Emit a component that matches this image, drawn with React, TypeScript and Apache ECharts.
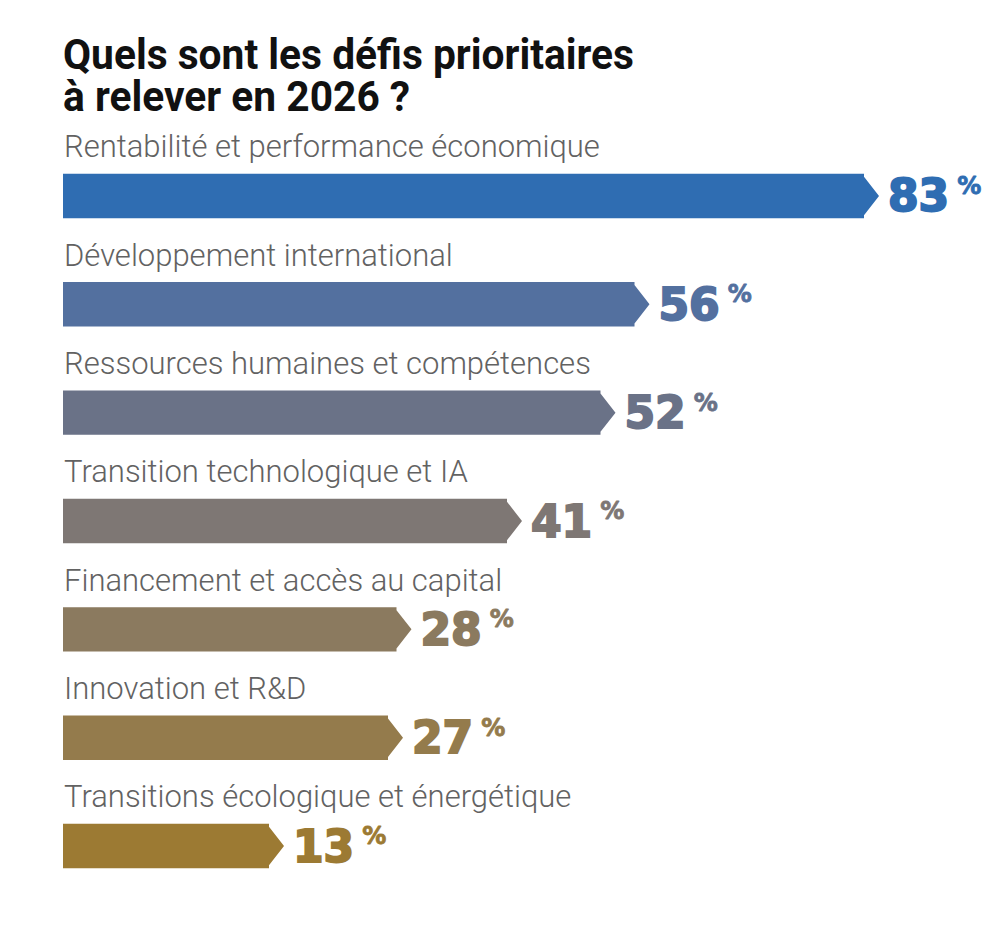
import React, { useEffect, useRef } from "react";
import * as echarts from "echarts";

const titleLines = ["Quels sont les défis prioritaires", "à relever en 2026 ?"];
const categories = [
  "Rentabilité et performance économique",
  "Développement international",
  "Ressources humaines et compétences",
  "Transition technologique et IA",
  "Financement et accès au capital",
  "Innovation et R&D",
  "Transitions écologique et énergétique",
];
const values = [83, 56, 52, 41, 28, 27, 13];
const colors = ["#2f6db2", "#53709f", "#6a7287", "#7e7774", "#8b7a5f", "#947b4c", "#9c7a33"];

const X_MIN = -13;
const X_MAX = 90;

export default function App() {
  const ref = useRef<HTMLDivElement>(null);
  useEffect(() => {
    if (!ref.current) return;
    const chart = echarts.init(ref.current, null, { renderer: "svg" });
    const option: any = {
      animation: false,
      backgroundColor: "#ffffff",
      grid: { left: 63, right: 61.5, top: 141.8, bottom: 29.8 },
      xAxis: { type: "value", min: X_MIN, max: X_MAX, show: false },
      yAxis: { type: "category", data: categories, inverse: true, show: false },
      graphic: titleLines.map((t, i) => ({
        type: "text",
        x: 63,
        y: 55 + i * 42,
        scaleX: 0.97,
        style: {
          text: t,
          fontFamily: "Roboto",
          fontWeight: 700,
          fontSize: 42,
          fill: "#111111",
          verticalAlign: "middle",
          align: "left",
        },
      })),
      series: [
        {
          type: "custom",
          clip: false,
          encode: { x: 0, y: 1 },
          data: values.map((v, i) => [v, i]),
          renderItem: (params: any, api: any) => {
            const i = params.dataIndex;
            const v = api.value(0);
            const tipPt = api.coord([v, i]);
            const basePt = api.coord([X_MIN, i]);
            const band = api.size([0, 1])[1];
            const h = band * 0.41;
            const cy = tipPt[1];
            const top = cy - h / 2;
            const bot = cy + h / 2;
            const tipX = tipPt[0];
            const rx = tipX - 15;
            const color = colors[i];
            return {
              type: "group",
              children: [
                {
                  type: "polygon",
                  shape: {
                    points: [
                      [basePt[0], top],
                      [rx, top],
                      [rx, top + 3],
                      [tipX, cy],
                      [rx, bot - 3],
                      [rx, bot],
                      [basePt[0], bot],
                    ],
                  },
                  style: { fill: color },
                },
                {
                  type: "text",
                  x: basePt[0] + 1,
                  y: top - 27,
                  scaleX: 1.0,
                  style: {
                    text: categories[i],
                    fontFamily: "Roboto",
                    fontWeight: 300,
                    fontSize: 31,
                    fill: "#626262",
                    verticalAlign: "middle",
                    align: "left",
                  },
                },
                {
                  type: "text",
                  x: tipX + 9,
                  y: cy,
                  style: {
                    text: `{n|${v}}{p|%}`,
                    verticalAlign: "middle",
                    align: "left",
                    rich: {
                      n: {
                        fontFamily: "DejaVu Sans",
                        fontWeight: 700,
                        fontSize: 44,
                        lineHeight: 44,
                        fill: color,
                        stroke: color,
                        lineWidth: 2,
                      },
                      p: {
                        fontFamily: "DejaVu Sans",
                        fontWeight: 700,
                        fontSize: 24,
                        lineHeight: 24,
                        fill: color,
                        stroke: color,
                        lineWidth: 0.8,
                        verticalAlign: "top",
                        padding: [0, 0, 0, 8],
                      },
                    },
                  },
                },
              ],
            };
          },
        },
      ],
    };
    chart.setOption(option);
    return () => chart.dispose();
  }, []);
  return (
    <div
      ref={ref}
      style={{ position: "fixed", left: 0, top: 0, width: 1000, height: 930, background: "#fff" }}
    />
  );
}
